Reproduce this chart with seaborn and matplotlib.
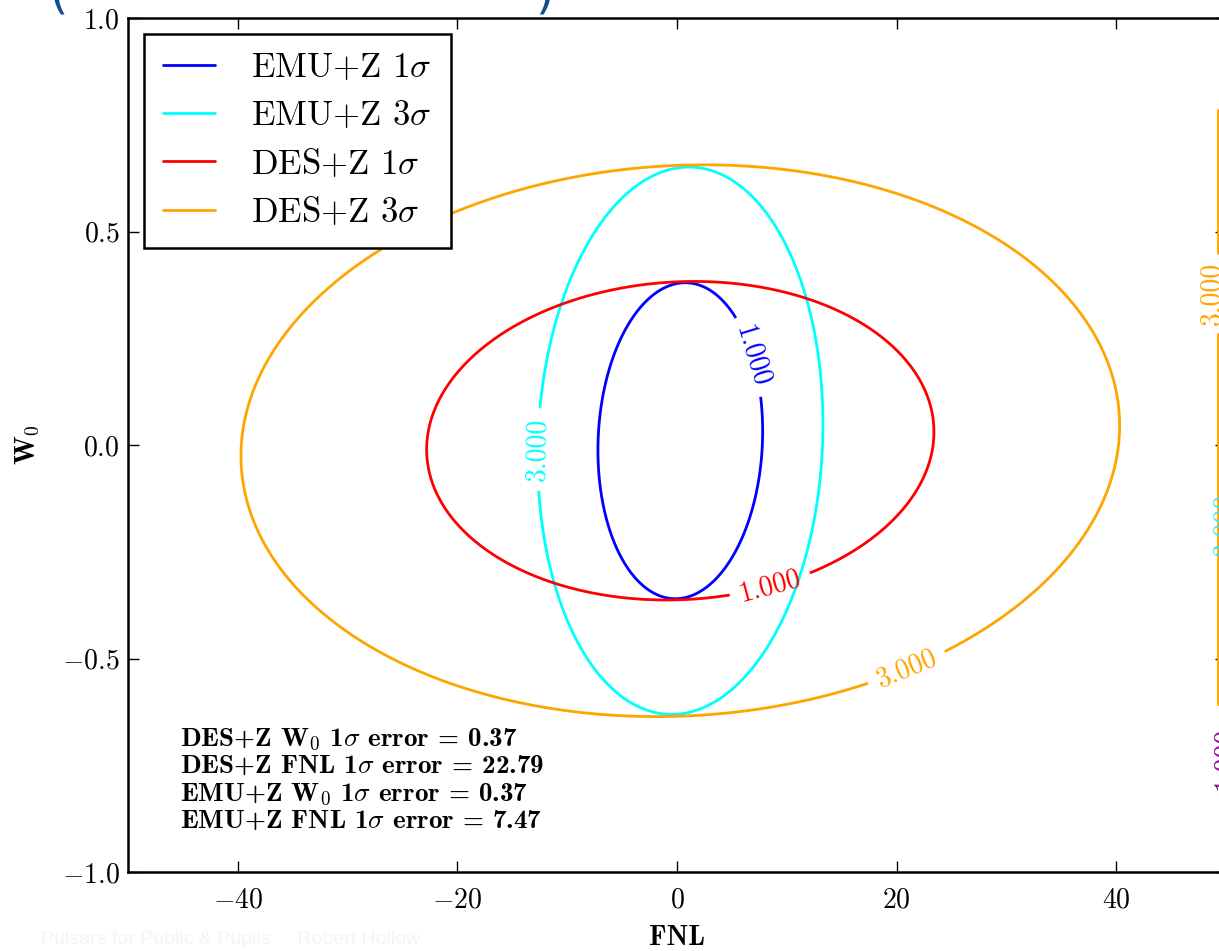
import numpy as np
import matplotlib
matplotlib.use("Agg")
import matplotlib.pyplot as plt
import seaborn as sns
from matplotlib.lines import Line2D
import warnings
warnings.filterwarnings("ignore")

# ---------------- data ----------------
fnl_center = 0.3
w0_center = 0.01
surveys = ["EMU+Z", "DES+Z"]
sigma_fnl = [7.5, 23.1]          # half-width of the 1-sigma contour in FNL
sigma_w0 = [0.37, 0.373]         # half-height of the 1-sigma contour in W0
rho = [0.06, 0.055]              # small correlation (slight tilt)
levels = [1.0, 3.0]
level_names = ["1$\\sigma$", "3$\\sigma$"]
survey_colors = {"EMU+Z": ["#0000ff", "#00ffff"], "DES+Z": ["#ff0000", "#ffa500"]}
errors_text = [
    ("DES+Z", "W$_0$", 0.37),
    ("DES+Z", "FNL", 22.79),
    ("EMU+Z", "W$_0$", 0.37),
    ("EMU+Z", "FNL", 7.47),
]
x_ticks = [-40, -20, 0, 20, 40]
y_ticks = [-1.0, -0.5, 0.0, 0.5, 1.0]
edge_fnl = [49.3, 49.3]
edge_w0_top = [0.785, 0.45]
edge_w0_bottom = [0.26, -0.607]

# ---------------- style ----------------
sns.set_theme(style="ticks")
plt.rcParams.update({
    "font.family": "serif",
    "font.serif": ["cmr10", "DejaVu Serif"],
    "mathtext.fontset": "cm",
    "axes.formatter.use_mathtext": True,
    "axes.unicode_minus": True,
    "text.color": "black",
    "axes.labelcolor": "black",
    "xtick.direction": "in",
    "ytick.direction": "in",
    "xtick.top": True,
    "ytick.right": True,
    "xtick.major.size": 8,
    "ytick.major.size": 8,
    "xtick.major.width": 1.0,
    "ytick.major.width": 1.0,
    "xtick.major.pad": 11,
    "ytick.major.pad": 6,
    "xtick.labelsize": 20,
    "ytick.labelsize": 20,
    "xtick.labelcolor": "black",
    "ytick.labelcolor": "black",
    "axes.linewidth": 1.8,
    "axes.edgecolor": "black",
    "xtick.color": "black",
    "ytick.color": "black",
})

fig = plt.figure(figsize=(12.19, 9.51), dpi=100)
ax = fig.add_axes([128 / 1219, 79 / 951, 1098 / 1219, 854 / 951])

fnl = np.linspace(-50, 50, 1201)
w0 = np.linspace(-1, 1, 1201)
FF, WW = np.meshgrid(fnl, w0)

label_pos = {
    "EMU+Z": [(7.1, 0.21), (-12.9, -0.01)],
    "DES+Z": [(8.5, -0.33), (20.8, -0.515)],
}

handles = []
for i, s in enumerate(surveys):
    dx = (FF - fnl_center) / sigma_fnl[i]
    dy = (WW - w0_center) / sigma_w0[i]
    chi2 = (dx ** 2 - 2 * rho[i] * dx * dy + dy ** 2) / (1 - rho[i] ** 2)
    cs = ax.contour(FF, WW, chi2, levels=levels, colors=survey_colors[s],
                    linewidths=2.0)
    ax.clabel(cs, fmt="%1.3f", fontsize=20, inline=True, inline_spacing=10,
              manual=label_pos[s])
for s in surveys:
    for j, lv in enumerate(levels):
        handles.append(Line2D([], [], color=survey_colors[s][j], lw=2.0,
                              label=f"{s} {level_names[j]}"))

# partial contour seen at the right edge
ax.plot(edge_fnl, edge_w0_top, color="#ffa500", lw=2.0, clip_on=False)
ax.plot(edge_fnl, edge_w0_bottom, color="#ffa500", lw=2.0, clip_on=False)
ax.text(48.75, 0.356, "3.000", color="#ffa500", fontsize=20, rotation=90,
        ha="center", va="center")
ax.text(49.9, -0.187, "3.000", color="#40e8e0", fontsize=20, rotation=90,
        ha="center", va="center")
ax.text(49.9, -0.735, "1.000", color="#2020ff", fontsize=20, rotation=90,
        ha="center", va="center")
ax.text(49.9, -0.735, "1.000", color="#ff0040", fontsize=20, rotation=90,
        ha="center", va="center", alpha=0.6)

ax.set_xlim(-50, 50)
ax.set_ylim(-1, 1)
ax.set_xticks(x_ticks)
ax.set_yticks(y_ticks)
ax.yaxis.set_major_formatter(matplotlib.ticker.FormatStrFormatter("$%.1f$"))
ax.xaxis.set_major_formatter(matplotlib.ticker.FuncFormatter(
    lambda v, p: "$%d$" % v))

ax.set_xlabel("FNL", fontsize=20, fontfamily="cmb10", labelpad=8,
              color="black")
ax.set_ylabel("W$_0$", fontsize=20, fontfamily="cmb10", labelpad=14,
              color="black")

leg = ax.legend(handles=handles, loc="upper left", fontsize=25,
                frameon=True, fancybox=False, framealpha=1,
                edgecolor="black", borderaxespad=0.45, handlelength=1.5,
                handletextpad=1.05, labelspacing=0.45, borderpad=0.55)
leg.get_frame().set_linewidth(1.8)
for t in leg.get_texts():
    t.set_color("black")

txt = "\n".join(f"{s} {p} 1$\\sigma$ error = {v:.2f}" for s, p, v in errors_text)
ax.text(0.047, 0.046, txt, transform=ax.transAxes, fontsize=19.5,
        fontfamily="cmb10", ha="left", va="bottom", linespacing=1.15,
        color="black")

# faint watermark and cropped title brackets from the source slide
fig.text(41 / 1219, 1 - 948 / 951, "Pulsars for Public & Pupils     Robert Hollow",
         fontsize=14, color="#f2f4fa", fontfamily="Liberation Sans",
         ha="left", va="bottom")
fig.text(50 / 1219, 1 - 17 / 951, "(", fontsize=34, color="#0d4f8b",
         fontfamily="DejaVu Sans", ha="left", va="bottom")
fig.text(535 / 1219, 1 - 17 / 951, ")", fontsize=34, color="#0d4f8b",
         fontfamily="DejaVu Sans", ha="left", va="bottom")

fig.savefig("out.png", dpi=100)
